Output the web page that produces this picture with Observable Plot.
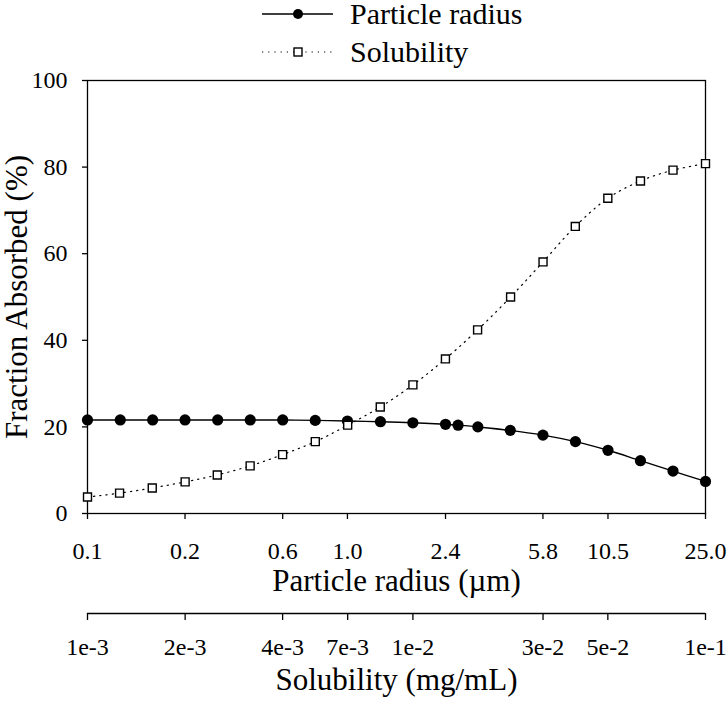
<!DOCTYPE html>
<html>
<head>
<meta charset="utf-8">
<script src="https://cdn.jsdelivr.net/npm/d3@7"></script>
<script src="https://cdn.jsdelivr.net/npm/@observablehq/plot@0.6"></script>
<style>
  body { margin: 0; background: #ffffff; font-family: "Liberation Serif", "Times New Roman", serif; }
  #chart svg { display: block; }
</style>
</head>
<body>
<div id="chart"></div>
<script>
// colours
const black = '#000000';
const white = '#ffffff';
const serif = '"Liberation Serif", "Times New Roman", serif';

// Particle radius series (um) and fraction absorbed (%)
const radius = [0.1, 0.134, 0.179, 0.239, 0.320, 0.428, 0.572, 0.765, 1.02, 1.37, 1.83, 2.45, 2.74, 3.27, 4.37, 5.85, 7.82, 10.46, 13.98, 18.70, 25.0];
const radiusFA = [21.6, 21.6, 21.6, 21.6, 21.6, 21.6, 21.6, 21.5, 21.35, 21.2, 20.95, 20.6, 20.4, 20.0, 19.2, 18.1, 16.6, 14.6, 12.2, 9.8, 7.4];

// Solubility series (mg/mL) and fraction absorbed (%)
const solubility = [0.001, 0.00127, 0.00162, 0.00207, 0.00263, 0.00336, 0.00428, 0.00546, 0.00695, 0.00886, 0.0113, 0.0144, 0.0183, 0.0234, 0.0298, 0.0379, 0.0483, 0.0616, 0.0785, 0.1];
const solubilityFA = [3.8, 4.7, 5.9, 7.3, 8.9, 11.0, 13.6, 16.6, 20.4, 24.6, 29.7, 35.7, 42.4, 50.0, 58.1, 66.3, 72.8, 76.8, 79.3, 80.8];

// tick positions and the labels printed at them
const yTicks = [0, 20, 40, 60, 80, 100];
const radiusTicks = [0.1, 0.239, 0.572, 1.02, 2.45, 5.85, 10.46, 25.0];
const radiusTickLabels = ["0.1", "0.2", "0.6", "1.0", "2.4", "5.8", "10.5", "25.0"];
const solubilityTicks = [0.001, 0.00207, 0.00428, 0.00695, 0.0113, 0.0298, 0.0483, 0.1];
const solubilityTickLabels = ["1e-3", "2e-3", "4e-3", "7e-3", "1e-2", "3e-2", "5e-2", "1e-1"];

const radiusData = radius.map((r, i) => ({r: r, fa: radiusFA[i]}));
const solubilityData = solubility.map((s, i) => ({s: s, fa: solubilityFA[i]}));
const radiusTickData = radiusTicks.map((t, i) => ({t: t, label: radiusTickLabels[i]}));
const solubilityTickData = solubilityTicks.map((t, i) => ({t: t, label: solubilityTickLabels[i]}));

let chartOption = {width: 728, height: 634, marginTop: 12, marginLeft: 87, marginRight: 23, marginBottom: 189};

// legend above the plot
function makeLegend() {
    const svg = d3.create("svg").attr("width", 728).attr("height", 68);
    svg.append("line").attr("x1", 262).attr("x2", 333).attr("y1", 14).attr("y2", 14)
        .attr("stroke", black).attr("stroke-width", 1.3);
    svg.append("circle").attr("cx", 298).attr("cy", 14).attr("r", 5).attr("fill", black);
    svg.append("text").attr("x", 350).attr("y", 24).attr("font-family", serif).attr("font-size", 30)
        .text("Particle radius");
    svg.append("line").attr("x1", 262).attr("x2", 333).attr("y1", 52).attr("y2", 52)
        .attr("stroke", black).attr("stroke-width", 1.2).attr("stroke-dasharray", "1.2,5");
    svg.append("rect").attr("x", 294).attr("y", 48).attr("width", 8).attr("height", 8)
        .attr("fill", white).attr("stroke", black).attr("stroke-width", 1.4);
    svg.append("text").attr("x", 350).attr("y", 62).attr("font-family", serif).attr("font-size", 30)
        .text("Solubility");
    return svg.node();
}

const common = {
    width: chartOption.width,
    height: chartOption.height,
    marginTop: chartOption.marginTop,
    marginLeft: chartOption.marginLeft,
    marginRight: chartOption.marginRight,
    marginBottom: chartOption.marginBottom,
    style: {fontFamily: serif, fontSize: "24px", color: black, background: "transparent", overflow: "visible"}
};

const fig = Plot.plot({
    ...common,
    x: {type: "log", domain: [0.1, 25]},
    y: {domain: [0, 100]},
    marks: [
        Plot.frame({stroke: black, strokeWidth: 1.3}),
        Plot.axisY({ticks: yTicks, tickSize: 5, tickPadding: 15, label: null, fontSize: 24, strokeWidth: 1.3}),
        // tick marks from the axis, labels as text so every one is printed
        Plot.axisX({ticks: radiusTicks, tickFormat: () => "", tickSize: 6, label: null, strokeWidth: 1.3}),
        Plot.text(radiusTickData, {x: "t", text: "label", frameAnchor: "bottom", lineAnchor: "top", dy: 28, fontSize: 24}),
        Plot.text(["Fraction Absorbed (%)"], {frameAnchor: "left", dx: -70, rotate: -90, textAnchor: "middle", fontSize: 31}),
        Plot.text(["Particle radius (\u00b5m)"], {frameAnchor: "bottom", dy: 77, fontSize: 31}),
        Plot.line(radiusData, {x: "r", y: "fa", stroke: black, strokeWidth: 1.4, curve: "catmull-rom"}),
        Plot.dot(radiusData, {x: "r", y: "fa", r: 5.6, fill: black}),
        // solubility has its own log scale, drawn as a second plot on top
        () =>
            Plot.plot({
                ...common,
                x: {type: "log", domain: [0.001, 0.1]},
                y: {domain: [0, 100], axis: null},
                marks: [
                    Plot.ruleY([0], {dy: 100, stroke: black, strokeWidth: 1.3}),
                    Plot.axisX({ticks: solubilityTicks, tickFormat: () => "", dy: 100, tickSize: 7, label: null, strokeWidth: 1.3}),
                    Plot.text(solubilityTickData, {x: "t", text: "label", frameAnchor: "bottom", lineAnchor: "top", dy: 124, fontSize: 24}),
                    Plot.text(["Solubility (mg/mL)"], {frameAnchor: "bottom", dy: 176, fontSize: 31}),
                    Plot.line(solubilityData, {x: "s", y: "fa", stroke: black, strokeWidth: 1.2, strokeDasharray: "1.2,5", curve: "catmull-rom"}),
                    Plot.dot(solubilityData, {x: "s", y: "fa", symbol: "square", r: 4.5, fill: white, stroke: black, strokeWidth: 1.4})
                ]
            })
    ]
});

const chart = document.getElementById("chart");
chart.append(makeLegend());
chart.append(fig);
</script>
</body>
</html>
